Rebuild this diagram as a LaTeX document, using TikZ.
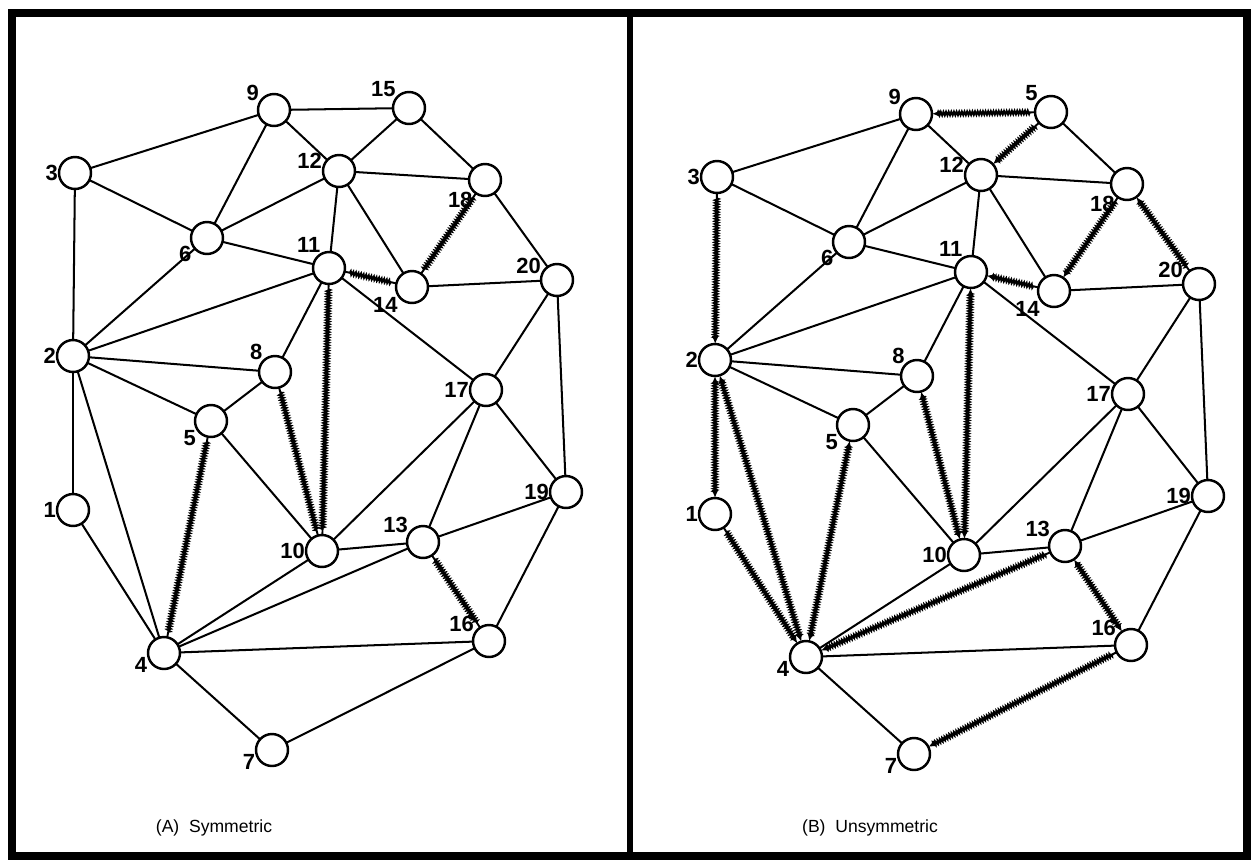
\documentclass[tikz,border=0pt]{standalone}
\usepackage{fontspec}
\setsansfont{Liberation Sans}
\usetikzlibrary{arrows.meta,decorations.pathmorphing}

% node / xpos / ypos / label angle / label text in panel B
\newcommand{\vtxlist}{1/73/510/180/1, 2/73/356/180/2, 3/75/173/180/3, 4/164/653/190/4,
  5/211/421/210/5, 6/207/238/205/6, 7/272/750/190/7, 8/275/372/135/8,
  9/274/110/150/9, 10/322/551/180/10, 11/329/268/118/11, 12/339/171/175/12,
  13/423/542/150/13, 14/412/287/215/14, 15/409/108/140/5, 16/489/641/150/16,
  17/486/390/180/17, 18/485/180/225/18, 19/566/492/180/19, 20/557/280/160/20}

\begin{document}
\begin{tikzpicture}[x=0.02cm,y=-0.02cm,>={Latex[length=4.5pt,width=4pt]},
  vtx/.style={circle,draw,line width=1.4pt,minimum size=0.64cm,inner sep=0pt,outer sep=0pt,fill=white},
  lbl/.style={font=\sffamily\bfseries\fontsize{12.5}{13}\selectfont,inner sep=0.5pt},
  ln/.style={line width=1.15pt},
  zz/.style={line width=1.1pt,decorate,decoration={zigzag,amplitude=1pt,segment length=1.5pt,pre length=3pt,post length=3pt}},
  captxt/.style={font=\sffamily\fontsize{10}{11}\selectfont}]
  \useasboundingbox (0,0) rectangle (1251,860);
  \draw[line width=0.16cm] (12,13) rectangle (1247,856);
  \draw[line width=0.11cm] (630,13) -- (630,856);

  % (A) symmetric
  \foreach \n/\x/\y/\a/\t in \vtxlist
    \node[vtx,label={[lbl,label distance=0pt]\a:\n}] (A\n) at (\x,\y) {};
  \foreach \a/\b in {3/9,3/6,3/2,9/15,9/12,9/6,6/12,6/11,6/2,12/15,12/18,12/11,12/14,
      15/18,18/20,11/2,11/8,11/17,14/20,20/17,20/19,2/8,2/5,2/1,2/4,8/5,5/10,1/4,
      10/17,10/13,10/4,13/4,13/17,13/19,17/19,19/16,16/4,16/7,4/7}
    \draw[ln] (A\a) -- (A\b);
  \foreach \a/\b in {18/14,11/14,11/10,8/10,5/4,13/16}
    \draw[zz] (A\a) -- (A\b);
  \node[captxt] (capA) at (214,828) {(A)\ \ Symmetric};

  % (B) unsymmetric
  \begin{scope}[shift={(642,4)}]
    \foreach \n/\x/\y/\a/\t in \vtxlist
      \node[vtx,label={[lbl,label distance=0pt]\a:\t}] (B\n) at (\x,\y) {};
    \foreach \a/\b in {3/9,3/6,9/12,9/6,6/12,6/11,6/2,12/18,12/11,12/14,15/18,11/2,
        11/8,11/17,14/20,20/17,20/19,2/8,2/5,8/5,5/10,10/17,10/13,10/4,13/17,
        13/19,17/19,19/16,16/4,4/7}
      \draw[ln] (B\a) -- (B\b);
    \foreach \a/\b in {15/9,15/12,18/14,20/18,14/11,3/2,1/4,13/4,16/7}
      \draw[zz,->] (B\a) -- (B\b);
    \foreach \a/\b in {2/1,2/4,5/4,8/10,11/10,13/16}
      \draw[zz,<->] (B\a) -- (B\b);
  \end{scope}
  \node[captxt] (capB) at (870,828) {(B)\ \ Unsymmetric};
\end{tikzpicture}
\end{document}
